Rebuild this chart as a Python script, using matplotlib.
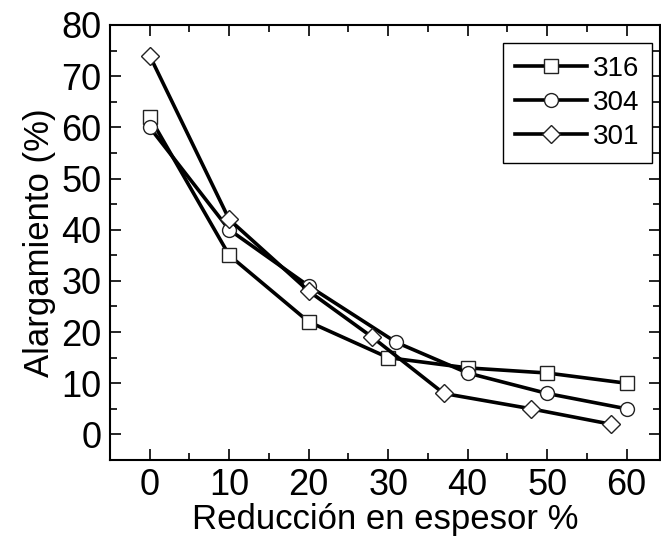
import matplotlib
matplotlib.use("Agg")
import matplotlib.pyplot as plt
from matplotlib.ticker import MultipleLocator

plt.rcParams['font.family'] = ['Liberation Sans', 'DejaVu Sans']

x316 = [0, 10, 20, 30, 40, 50, 60]
y316 = [62, 35, 22, 15, 13, 12, 10]
x304 = [0, 10, 20, 31, 40, 50, 60]
y304 = [60, 40, 29, 18, 12, 8, 5]
x301 = [0, 10, 20, 28, 37, 48, 58]
y301 = [74, 42, 28, 19, 8, 5, 2]
labels = ['316', '304', '301']

fig = plt.figure(figsize=(6.61, 5.43), dpi=100)
ax = fig.add_axes([110/661, 1-460/543, 550/661, 435/543])

common = dict(color='black', linewidth=2.6, markersize=10, markerfacecolor='white',
              markeredgecolor='#222222', markeredgewidth=1.0)
ax.plot(x316, y316, marker='s', label=labels[0], **common)
ax.plot(x304, y304, marker='o', label=labels[1], **common)
ax.plot(x301, y301, marker='D', label=labels[2], **dict(common, markersize=9))

ax.set_xlim(-5, 64.2)
ax.set_ylim(-5, 80)
ax.xaxis.set_major_locator(MultipleLocator(10))
ax.xaxis.set_minor_locator(MultipleLocator(5))
ax.yaxis.set_major_locator(MultipleLocator(10))
ax.yaxis.set_minor_locator(MultipleLocator(5))
ax.tick_params(which='both', direction='in', top=True, right=True, width=1.2, labelsize=26)
ax.tick_params(which='major', length=8, pad=6)
ax.tick_params(which='minor', length=5)
for s in ax.spines.values():
    s.set_linewidth(1.5)

ax.set_xlabel('Reducción en espesor %', fontsize=25, labelpad=0)
ax.set_ylabel('Alargamiento (%)', fontsize=25, labelpad=4)

leg = ax.legend(loc='upper right', bbox_to_anchor=((652-110)/550, (460-43)/435),
                borderaxespad=0, fontsize=20, fancybox=False, framealpha=1,
                edgecolor='black', handlelength=2.6, labelspacing=0.3,
                handletextpad=0.2, borderpad=0.45)
leg.get_frame().set_linewidth(1.0)

fig.savefig('out.png', dpi=100)
